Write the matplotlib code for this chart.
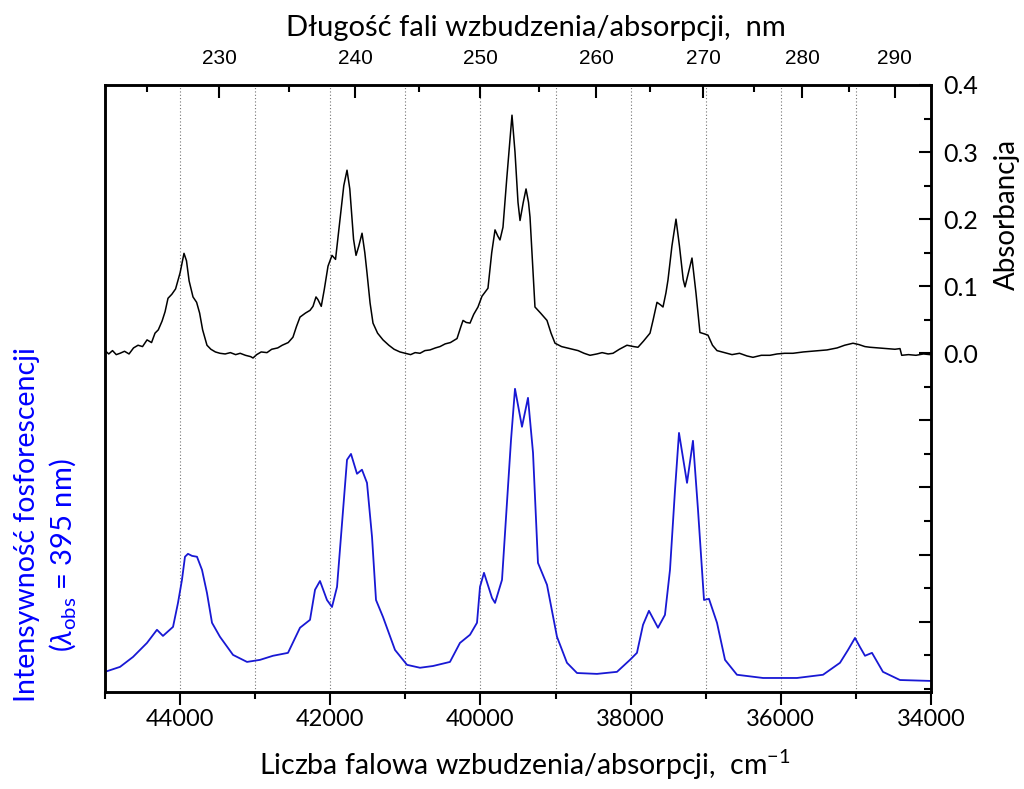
import matplotlib.pyplot as plt
import numpy as np
from matplotlib.ticker import FixedLocator, MultipleLocator, FuncFormatter

plt.rcParams['font.family'] = ['Lato', 'DejaVu Sans']
plt.rcParams['mathtext.fontset'] = 'custom'
plt.rcParams['mathtext.rm'] = 'Lato'
plt.rcParams['mathtext.it'] = 'Lato:italic'

# absorbance spectrum (black), wavenumber in cm-1
abs_wn = [44990, 44950, 44900, 44850, 44800, 44740, 44680, 44620, 44560, 44500,
          44440, 44380, 44334, 44290, 44240, 44200, 44161, 44110, 44060, 44000,
          43948, 43915, 43880, 43828, 43780, 43740, 43700, 43642, 43590, 43530,
          43469, 43400, 43330, 43260, 43200, 43130, 43060, 43029, 42980, 42920,
          42843, 42780, 42700, 42640, 42560, 42497, 42450, 42403, 42330, 42270,
          42230, 42190, 42164, 42120, 42080, 42030, 41977, 41930, 41880, 41820,
          41777, 41740, 41690, 41657, 41620, 41577, 41540, 41511, 41470, 41431,
          41370, 41298, 41220, 41150, 41072, 41000, 40930, 40870, 40805, 40740,
          40672, 40600, 40539, 40470, 40400, 40312, 40260, 40232, 40190, 40139,
          40090, 40033, 39980, 39900, 39850, 39806, 39770, 39740, 39700, 39650,
          39580, 39540, 39500, 39473, 39430, 39393, 39360, 39340, 39300, 39274,
          39200, 39114, 39060, 39007, 38920, 38808, 38700, 38620, 38541, 38450,
          38380, 38300, 38235, 38150, 38049, 37960, 37902, 37830, 37742, 37700,
          37649, 37600, 37569, 37530, 37503, 37450, 37396, 37350, 37300, 37276,
          37230, 37183, 37130, 37077, 37020, 36970, 36910, 36850, 36750, 36650,
          36550, 36450, 36371, 36260, 36145, 36050, 35950, 35838, 35700, 35600,
          35500, 35385, 35250, 35150, 35039, 34960, 34880, 34813, 34700, 34600,
          34480, 34413, 34390, 34300, 34200, 34100, 34014]
abs_val = [0.003, -0.001, 0.004, -0.002, 0.000, 0.003, -0.001, 0.008, 0.012, 0.010,
           0.020, 0.016, 0.030, 0.035, 0.048, 0.062, 0.082, 0.088, 0.096, 0.120,
           0.149, 0.138, 0.108, 0.084, 0.076, 0.060, 0.035, 0.012, 0.006, 0.002,
           0.000, -0.001, 0.001, -0.002, 0.000, -0.003, -0.005, -0.007, -0.002, 0.002,
           0.001, 0.006, 0.008, 0.012, 0.016, 0.024, 0.040, 0.054, 0.060, 0.064,
           0.070, 0.084, 0.080, 0.070, 0.095, 0.130, 0.146, 0.140, 0.190, 0.250,
           0.273, 0.245, 0.170, 0.146, 0.160, 0.179, 0.150, 0.120, 0.075, 0.045,
           0.030, 0.020, 0.012, 0.006, 0.002, 0.000, -0.002, 0.001, 0.000, 0.004,
           0.005, 0.008, 0.010, 0.014, 0.016, 0.022, 0.040, 0.049, 0.046, 0.045,
           0.058, 0.069, 0.085, 0.097, 0.150, 0.184, 0.175, 0.169, 0.188, 0.260,
           0.355, 0.300, 0.225, 0.198, 0.225, 0.245, 0.225, 0.203, 0.120, 0.069,
           0.060, 0.049, 0.030, 0.015, 0.010, 0.007, 0.004, 0.000, -0.003, -0.001,
           0.001, -0.001, 0.000, 0.006, 0.012, 0.010, 0.009, 0.018, 0.030, 0.050,
           0.076, 0.072, 0.069, 0.090, 0.109, 0.160, 0.200, 0.160, 0.110, 0.099,
           0.120, 0.142, 0.090, 0.031, 0.029, 0.027, 0.012, 0.004, 0.001, -0.002,
           0.000, -0.004, -0.006, -0.003, -0.003, -0.001, 0.000, 0.000, 0.002, 0.003,
           0.004, 0.005, 0.008, 0.012, 0.015, 0.013, 0.010, 0.009, 0.008, 0.007,
           0.006, 0.007, -0.003, -0.002, -0.003, -0.001, -0.002]

# phosphorescence excitation spectrum (blue), normalised intensity
phos_wn = [45000, 44800, 44627, 44441, 44308, 44228, 44094, 44028, 43975, 43935,
           43895, 43841, 43775, 43708, 43642, 43575, 43469, 43295, 43109, 42936,
           42763, 42563, 42403, 42270, 42203, 42137, 42044, 41977, 41910, 41777,
           41724, 41644, 41578, 41511, 41444, 41391, 41298, 41138, 40978, 40805,
           40632, 40406, 40273, 40139, 40046, 40006, 39953, 39846, 39806, 39713,
           39647, 39593, 39540, 39447, 39367, 39300, 39234, 39114, 38981, 38848,
           38714, 38448, 38182, 38009, 37916, 37835, 37756, 37636, 37543, 37476,
           37409, 37356, 37249, 37170, 37103, 37023, 36957, 36850, 36743, 36584,
           36237, 35785, 35438, 35212, 35105, 35012, 34946, 34879, 34786, 34640,
           34413, 34014]
phos_val = [0.031, 0.048, 0.082, 0.130, 0.175, 0.154, 0.185, 0.267, 0.346, 0.425,
            0.435, 0.428, 0.425, 0.380, 0.301, 0.199, 0.151, 0.089, 0.065, 0.072,
            0.086, 0.096, 0.182, 0.209, 0.312, 0.342, 0.277, 0.253, 0.322, 0.757,
            0.777, 0.709, 0.723, 0.678, 0.493, 0.277, 0.219, 0.106, 0.055, 0.045,
            0.051, 0.065, 0.130, 0.158, 0.199, 0.322, 0.370, 0.284, 0.267, 0.346,
            0.610, 0.825, 1.000, 0.870, 0.969, 0.781, 0.404, 0.329, 0.151, 0.062,
            0.027, 0.024, 0.031, 0.072, 0.096, 0.192, 0.240, 0.182, 0.226, 0.380,
            0.654, 0.849, 0.678, 0.822, 0.586, 0.277, 0.281, 0.199, 0.072, 0.021,
            0.010, 0.010, 0.021, 0.062, 0.106, 0.147, 0.116, 0.086, 0.096, 0.031,
            0.003, 0.000]

nm_major = [230, 240, 250, 260, 270, 280, 290]
nm_minor = [225, 235, 245, 255, 265, 275, 285]
grid_wn = [44000, 43000, 42000, 41000, 40000, 39000, 38000, 37000, 36000, 35000]
abs_ticks = [-0.4, -0.3, -0.2, -0.1, 0.0, 0.1, 0.2, 0.3, 0.4]

fig = plt.figure(figsize=(10.24, 7.89), dpi=100)
ax = fig.add_axes([105 / 1024, 1 - 692 / 789, 826 / 1024, 607 / 789])

for w in grid_wn:
    ax.axvline(w, color='0.45', ls=(0, (1, 2)), lw=0.8, zorder=0)
ax.plot(phos_wn, phos_val, color='#1818d4', lw=1.3)
ax.set_xlim(45000, 34000)
ax.set_ylim(-0.038, 2.04)
ax.set_yticks([])
ax.xaxis.set_major_locator(MultipleLocator(2000))
ax.xaxis.set_minor_locator(MultipleLocator(1000))
ax.tick_params(axis='x', which='major', direction='out', length=9, width=1.5,
               labelsize=17, pad=3)
ax.tick_params(axis='x', which='minor', direction='out', length=5, width=1.5)
for s in ax.spines.values():
    s.set_linewidth(1.8)

ax2 = ax.twinx()
ax2.plot(abs_wn, abs_val, color='black', lw=1.1)
ax2.set_ylim(-0.505, 0.4)
ax2.yaxis.set_major_locator(FixedLocator(abs_ticks))
ax2.yaxis.set_minor_locator(MultipleLocator(0.05))
ax2.yaxis.set_major_formatter(FuncFormatter(lambda v, p: f'{v:.1f}' if v > -0.01 else ''))
ax2.tick_params(axis='y', which='major', direction='in', length=9, width=1.5,
                labelsize=18, pad=9)
ax2.tick_params(axis='y', which='minor', direction='in', length=5, width=1.5)
for s in ax2.spines.values():
    s.set_linewidth(1.8)

axt = ax.twiny()
axt.set_xlim(45000, 34000)
axt.xaxis.set_major_locator(FixedLocator([1e7 / n for n in nm_major]))
axt.xaxis.set_major_formatter(FuncFormatter(lambda v, p: f'{1e7 / v:.0f}'))
axt.xaxis.set_minor_locator(FixedLocator([1e7 / n for n in nm_minor]))
axt.tick_params(axis='x', which='major', direction='in', length=9, width=1.5,
                labelsize=15, pad=12)
axt.tick_params(axis='x', which='minor', direction='in', length=5, width=1.5)
for lab in axt.get_xticklabels():
    lab.set_family(['Liberation Sans Narrow', 'Liberation Sans'])

fig.text(536 / 1024, 1 - 28 / 789, 'Długość fali wzbudzenia/absorpcji,  nm',
         ha='center', va='center', fontsize=21)
fig.text(525 / 1024, 1 - 765 / 789, 'Liczba falowa wzbudzenia/absorpcji,  cm$^{-1}$',
         ha='center', va='center', fontsize=20.5)
fig.text(1007 / 1024, 1 - 215 / 789, 'Absorbancja', rotation=90,
         ha='center', va='center', fontsize=20)
fig.text(27 / 1024, 1 - 525 / 789, 'Intensywność fosforescencji', rotation=90,
         ha='center', va='center', fontsize=20.5, color='blue')
fig.text(62 / 1024, 1 - 555 / 789, r'($\lambda_{\rm obs}$ = 395 nm)', rotation=90,
         ha='center', va='center', fontsize=21, color='blue')

fig.savefig('out.png', dpi=100)
